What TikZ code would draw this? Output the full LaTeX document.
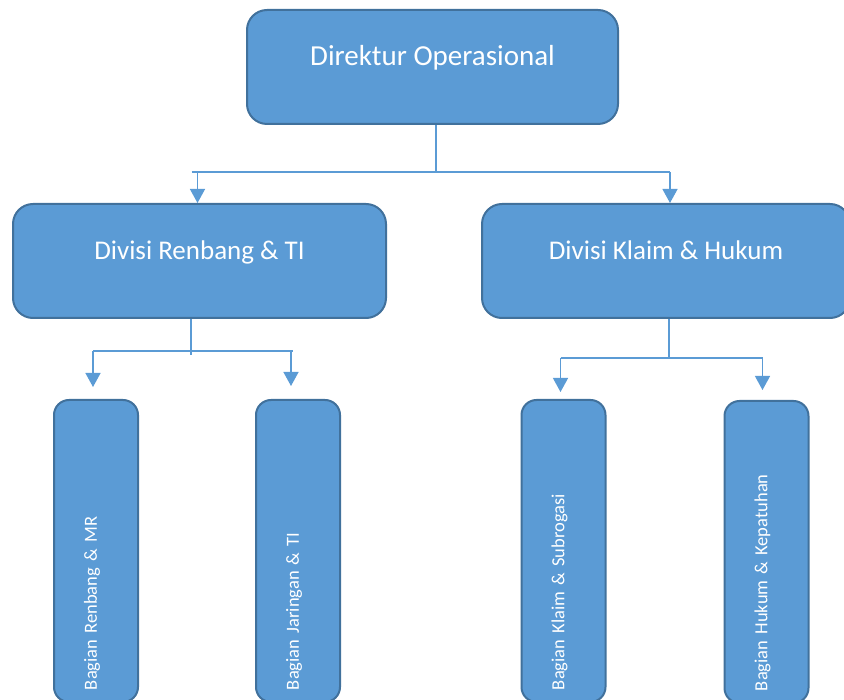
\documentclass[tikz,border=0pt]{standalone}
\usepackage{fontspec}
\setmainfont{Carlito}
\usepackage{xcolor}
\usetikzlibrary{arrows.meta,positioning}
\definecolor{biruIsi}{HTML}{5B9BD5}
\definecolor{biruGaris}{HTML}{41719C}

\begin{document}
\begin{tikzpicture}[x=1pt,y=1pt,
  kotak/.style={draw=biruGaris,fill=biruIsi,line width=2pt,rounded corners=20pt,
    text=white,font=\fontsize{27}{32}\selectfont,text depth=21pt,minimum height=114pt},
  bagian/.style={draw=biruGaris,fill=biruIsi,line width=2pt,rounded corners=15pt,
    text=white,font=\fontsize{18.5}{22}\selectfont,rotate=90,minimum height=84pt,
    inner xsep=12pt,text width=278pt,align=left,text depth=11pt},
  garis/.style={draw=biruIsi,line width=1.3pt},
  panah/.style={garis,-{Triangle[width=15pt,length=14pt]}}]
  \useasboundingbox (0,0) rectangle (844,-700);
  % kotak utama
  \node[kotak,minimum width=371pt,font=\fontsize{29}{34}\selectfont,text depth=23pt] (dir) at (432.5,-67) {Direktur Operasional};
  \node[kotak,minimum width=373pt] (renbang) at (199.5,-261) {Divisi Renbang \& TI};
  \node[kotak,minimum width=368pt] (klaim) at (666,-261) {Divisi Klaim \& Hukum};
  % bagian
  \node[bagian] (mr) at (96,-551) {Bagian Renbang \& MR};
  \node[bagian] (jar) at (298,-551) {Bagian Jaringan \& TI};
  \node[bagian] (sub) at (563.5,-551) {Bagian Klaim \& Subrogasi};
  \node[bagian] (huk) at (766.5,-552) {Bagian Hukum \& Kepatuhan};
  % garis penghubung
  \coordinate (a1) at (436,-172);
  \coordinate (b1) at (191,-351);
  \coordinate (c1) at (669,-358);
  \draw[garis] (dir.south -| a1) -- (a1);
  \draw[garis] ([xshift=-8pt]renbang.north |- a1) -- ([xshift=4pt]klaim.north |- a1);
  \draw[panah] ([xshift=-2pt]renbang.north |- a1) -- ([xshift=-2pt]renbang.north);
  \draw[panah] ([xshift=4pt]klaim.north |- a1) -- ([xshift=4pt]klaim.north);
  \draw[garis] (renbang.south -| b1) -- ([yshift=-4pt]b1);
  \draw[garis] ([xshift=-3pt]mr.east |- b1) -- ([xshift=-5pt]jar.east |- b1);
  \draw[panah] ([xshift=-3pt]mr.east |- b1) -- ([xshift=-3pt,yshift=12pt]mr.east);
  \draw[panah] ([xshift=-7pt]jar.east |- b1) -- ([xshift=-7pt,yshift=13pt]jar.east);
  \draw[garis] (klaim.south -| c1) -- (c1);
  \draw[garis] ([xshift=-3pt]sub.east |- c1) -- ([xshift=-4pt]huk.east |- c1);
  \draw[panah] ([xshift=-3pt]sub.east |- c1) -- ([xshift=-3pt,yshift=7pt]sub.east);
  \draw[panah] ([xshift=-4pt]huk.east |- c1) -- ([xshift=-4pt,yshift=10pt]huk.east);
\end{tikzpicture}
\end{document}
